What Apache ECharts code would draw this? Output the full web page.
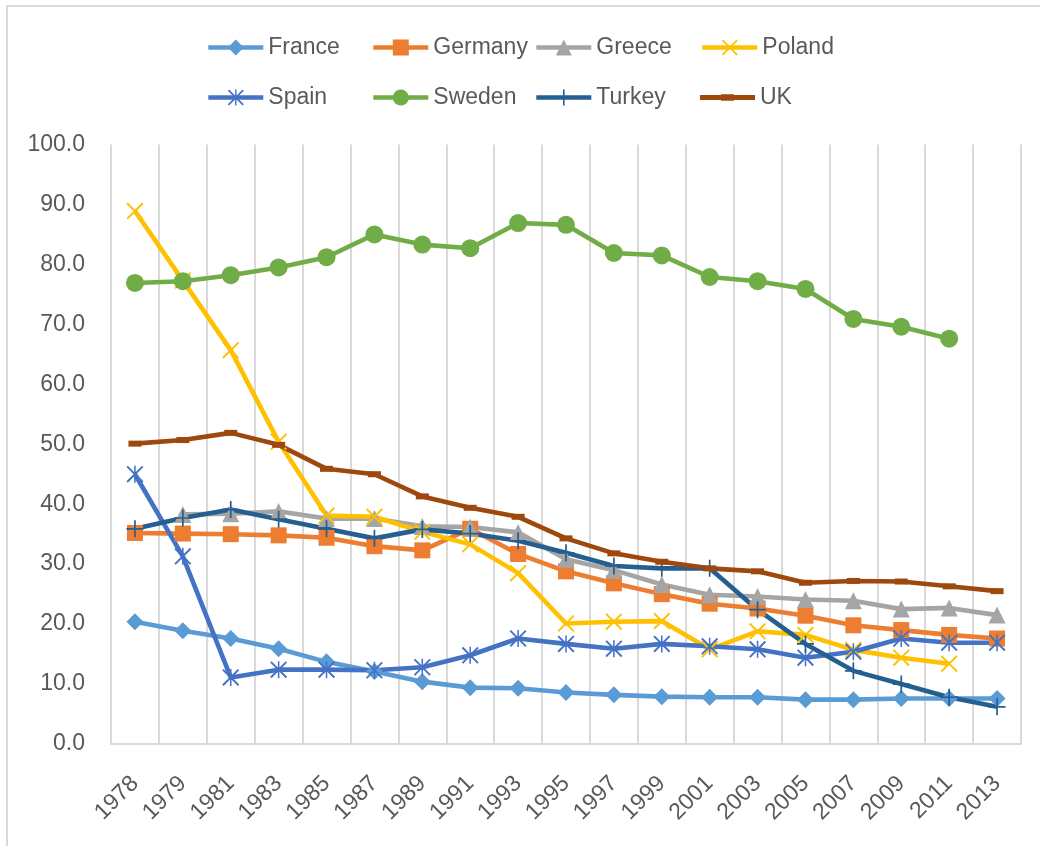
<!DOCTYPE html>
<html>
<head>
<meta charset="utf-8">
<script src="https://cdn.jsdelivr.net/npm/echarts@6/dist/echarts.min.js"></script>
<style>
  html, body { margin: 0; padding: 0; background: #fff; }
  #chart1 { width: 1040px; height: 846px; }
</style>
</head>
<body>
<div id="chart1"></div>
<script>
// data
var years = ['1978','1979','1981','1983','1985','1987','1989','1991','1993','1995','1997','1999','2001','2003','2005','2007','2009','2011','2013'];
var yTicks = [0, 10, 20, 30, 40, 50, 60, 70, 80, 90, 100];

var france  = [20.4, 18.9, 17.6, 15.9, 13.7, 12.1, 10.4, 9.4, 9.3, 8.6, 8.2, 7.9, 7.8, 7.8, 7.4, 7.4, 7.6, 7.6, 7.6];
var germany = [35.2, 35.1, 35.0, 34.8, 34.4, 33.0, 32.3, 35.9, 31.7, 28.8, 26.8, 25.0, 23.4, 22.6, 21.4, 19.8, 19.0, 18.2, 17.6];
var greece  = [null, 38.3, 38.4, 38.8, 37.6, 37.6, 36.3, 36.2, 35.3, 30.8, 29.0, 26.6, 24.9, 24.6, 24.1, 23.9, 22.5, 22.7, 21.5];
var poland  = [88.9, 77.3, 65.7, 50.4, 38.1, 37.9, 35.4, 33.3, 28.5, 20.1, 20.4, 20.5, 15.8, 18.8, 18.2, 15.7, 14.4, 13.4, null];
var spain   = [45.0, 31.3, 11.1, 12.4, 12.4, 12.3, 12.8, 14.8, 17.6, 16.7, 15.9, 16.7, 16.3, 15.8, 14.4, 15.4, 17.6, 16.9, 16.9];
var sweden  = [76.9, 77.2, 78.2, 79.5, 81.2, 85.0, 83.3, 82.7, 86.9, 86.6, 81.9, 81.5, 77.9, 77.2, 75.9, 70.9, 69.6, 67.6, null];
var turkey  = [35.9, 37.7, 39.1, 37.5, 35.9, 34.3, 35.8, 35.1, 33.9, 31.9, 29.7, 29.3, 29.3, 22.4, 16.7, 12.2, 10.0, 7.8, 6.2];
var uk      = [50.1, 50.7, 51.9, 49.9, 45.9, 45.0, 41.3, 39.4, 37.9, 34.3, 31.8, 30.4, 29.3, 28.8, 26.9, 27.2, 27.1, 26.3, 25.5];

// marker shapes (excel style x, star, plus)
var xMark    = 'path://M0,1.6 L1.6,0 L20,18.4 L18.4,20 Z M18.4,0 L20,1.6 L1.6,20 L0,18.4 Z';
var starMark = 'path://M0,1.6 L1.6,0 L20,18.4 L18.4,20 Z M18.4,0 L20,1.6 L1.6,20 L0,18.4 Z M9.1,0 L10.9,0 L10.9,20 L9.1,20 Z';
var plusMark = 'path://M9,0 L11,0 L11,20 L9,20 Z M0,9 L20,9 L20,11 L0,11 Z';
// legend icon for UK: line with a short dash marker
var ukIcon   = 'path://M0,0 L0.01,0 Z M55,20 L55.01,20 Z M0,7.6 L55,7.6 L55,12.4 L0,12.4 Z M21,6.8 L34,6.8 L34,13.2 L21,13.2 Z';

var fontName = 'Liberation Sans';
var textColor = '#595959';

function makeSeries(name, data, color, symbol, size) {
    return {
        name: name,
        type: 'line',
        data: data,
        symbol: symbol,
        symbolSize: size,
        showAllSymbol: true,
        connectNulls: false,
        lineStyle: { color: color, width: 4.6 },
        itemStyle: { color: color, borderWidth: 0 },
        emphasis: { disabled: true }
    };
}

// one legend per item so the columns line up like the excel legend
var legendNames = [['France', 'Germany', 'Greece', 'Poland'], ['Spain', 'Sweden', 'Turkey', 'UK']];
var legendLeft = [201, 366, 529, 695];
var legendTop = [31, 81];
var legends = [];
for (var r = 0; r < legendNames.length; r++) {
    for (var c = 0; c < legendNames[r].length; c++) {
        var nm = legendNames[r][c];
        legends.push({
            data: [nm === 'UK' ? { name: nm, icon: ukIcon } : nm],
            left: legendLeft[c],
            top: legendTop[r],
            itemWidth: 55,
            itemHeight: 20,
            lineStyle: { width: 4.6 },
            textStyle: { fontFamily: fontName, fontSize: 23, color: textColor }
        });
    }
}

var _chart1 = echarts.init(document.getElementById('chart1'));

var option = {
    backgroundColor: '#fff',
    animation: false,
    graphic: [
        {
            type: 'rect',
            shape: { x: 7, y: 6, width: 1100, height: 1000 },
            style: { fill: 'none', stroke: '#d9d9d9', lineWidth: 2 },
            silent: true
        }
    ],
    legend: legends,
    grid: {
        left: 111,
        right: 19,
        top: 144.5,
        bottom: 102,
        containLabel: false
    },
    xAxis: {
        type: 'category',
        data: years,
        boundaryGap: true,
        axisLine: { show: true, lineStyle: { color: '#d9d9d9', width: 2 } },
        axisTick: { show: false },
        splitLine: { show: true, lineStyle: { color: '#d9d9d9', width: 2 } },
        axisLabel: {
            interval: 0,
            rotate: 45,
            margin: 36,
            fontFamily: fontName,
            fontSize: 23,
            color: textColor
        }
    },
    yAxis: {
        type: 'value',
        min: yTicks[0],
        max: yTicks[yTicks.length - 1],
        interval: yTicks[1] - yTicks[0],
        axisLine: { show: false },
        axisTick: { show: false },
        splitLine: { show: false },
        axisLabel: {
            margin: 26,
            fontFamily: fontName,
            fontSize: 23,
            color: textColor,
            formatter: function (v) { return v.toFixed(1); }
        }
    },
    series: [
        makeSeries('France',  france,  '#5B9BD5', 'diamond',  17),
        makeSeries('Germany', germany, '#ED7D31', 'rect',     16),
        makeSeries('Greece',  greece,  '#A5A5A5', 'triangle', 17),
        makeSeries('Poland',  poland,  '#FFC000', xMark,      17),
        makeSeries('Spain',   spain,   '#4472C4', starMark,   17),
        makeSeries('Sweden',  sweden,  '#70AD47', 'circle',   18),
        makeSeries('Turkey',  turkey,  '#255E91', plusMark,   17),
        makeSeries('UK',      uk,      '#9E480E', 'rect',     [13, 6])
    ]
};

_chart1.setOption(option);
</script>
</body>
</html>
